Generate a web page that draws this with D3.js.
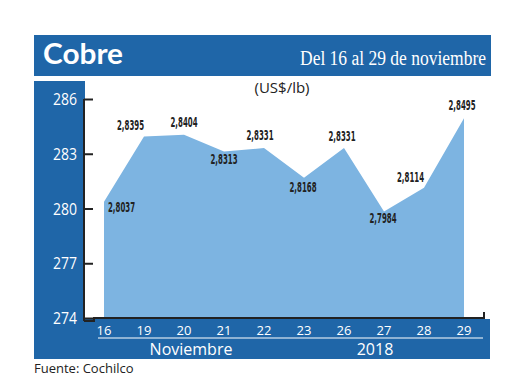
<!DOCTYPE html>
<html>
<head>
<meta charset="utf-8">
<script src="https://cdn.jsdelivr.net/npm/d3@7"></script>
<style>
    body { margin: 0; background: #fff; }
    svg { display: block; }
</style>
</head>
<body>
<div id="chart"></div>
<script>
const WIDTH = 520;
const HEIGHT = 390;

// data
const days = ["16", "19", "20", "21", "22", "23", "26", "27", "28", "29"];
const prices = [280.37, 283.95, 284.04, 283.13, 283.31, 281.68, 283.31, 279.84, 281.14, 284.95];
const labels = ["2,8037", "2,8395", "2,8404", "2,8313", "2,8331", "2,8168", "2,8331", "2,7984", "2,8114", "2,8495"];
const yTicks = [274, 277, 280, 283, 286];

// label offsets relative to each point (dx, dy, anchor)
const labelPos = [
    [4, 10, "start"], [0, -6, "end"], [0, -8, "middle"], [0, 13, "middle"], [-4, -8, "middle"],
    [-1, 14, "middle"], [-2, -7, "middle"], [-1, 12, "middle"], [0, -6, "end"], [-2, -8, "middle"]
];

const blue = "#1f66a8";
const areaBlue = "#7db4e1";

const svg = d3.select("#chart").append("svg")
    .attr("width", WIDTH)
    .attr("height", HEIGHT);

// header bar
svg.append("rect")
    .attr("x", 34).attr("y", 35)
    .attr("width", 457).attr("height", 41)
    .attr("fill", blue);

svg.append("text")
    .attr("x", 43).attr("y", 64)
    .attr("fill", "#fff")
    .style("font-family", "Lato, sans-serif")
    .style("font-weight", "bold")
    .style("font-size", "28px")
    .attr("textLength", 80)
    .attr("lengthAdjust", "spacingAndGlyphs")
    .text("Cobre");

svg.append("text")
    .attr("x", 486).attr("y", 65)
    .attr("text-anchor", "end")
    .attr("fill", "#fff")
    .style("font-family", "'Liberation Serif', serif")
    .style("font-size", "20px")
    .attr("textLength", 186)
    .attr("lengthAdjust", "spacingAndGlyphs")
    .text("Del 16 al 29 de noviembre");

// left panel and bottom panel
svg.append("rect")
    .attr("x", 34).attr("y", 81)
    .attr("width", 51).attr("height", 278)
    .attr("fill", blue);

svg.append("rect")
    .attr("x", 34).attr("y", 319)
    .attr("width", 456).attr("height", 40)
    .attr("fill", blue);

svg.append("text")
    .attr("x", 282).attr("y", 93)
    .attr("text-anchor", "middle")
    .attr("fill", "#222")
    .style("font-family", "'Open Sans', sans-serif")
    .style("font-size", "15px")
    .text("(US$/lb)");

const x = d3.scalePoint()
    .domain(days)
    .range([104, 464]);

const y = d3.scaleLinear()
    .domain([274, 286])
    .range([318, 99]);

const area = d3.area()
    .x((d, i) => x(days[i]))
    .y0(y(274))
    .y1(d => y(d));

svg.append("path")
    .datum(prices)
    .attr("d", area)
    .attr("fill", areaBlue);

// y axis (ticks pointing inwards)
const yAxis = d3.axisRight(y)
    .tickValues(yTicks)
    .tickSize(9)
    .tickFormat("");

const yAxisG = svg.append("g")
    .attr("transform", "translate(84,0)")
    .call(yAxis);

yAxisG.select(".domain").remove();
yAxisG.selectAll(".tick line").attr("stroke", "#222").attr("stroke-width", 2);

svg.append("line")
    .attr("x1", 84).attr("x2", 84)
    .attr("y1", y(286)).attr("y2", 321)
    .attr("stroke", "#222").attr("stroke-width", 2);

svg.append("path")
    .attr("d", "M84,321H94V318H484V312")
    .attr("fill", "none")
    .attr("stroke", "#222").attr("stroke-width", 2);

svg.selectAll(".ylab")
    .data(yTicks)
    .enter().append("text")
    .attr("class", "ylab")
    .attr("x", 77)
    .attr("y", d => y(d) + 6)
    .attr("text-anchor", "end")
    .attr("fill", "#fff")
    .style("font-family", "'Open Sans', sans-serif")
    .style("font-size", "17px")
    .attr("textLength", 24)
    .attr("lengthAdjust", "spacingAndGlyphs")
    .text(d => d);

// x labels
svg.selectAll(".xlab")
    .data(days)
    .enter().append("text")
    .attr("class", "xlab")
    .attr("x", d => x(d))
    .attr("y", 335)
    .attr("text-anchor", "middle")
    .attr("fill", "#fff")
    .style("font-family", "'Open Sans', sans-serif")
    .style("font-size", "13px")
    .text(d => d);

svg.append("line")
    .attr("x1", 98).attr("x2", 483)
    .attr("y1", 338).attr("y2", 338)
    .attr("stroke", "#fff").attr("stroke-width", 1.2);

svg.append("text")
    .attr("x", 191).attr("y", 355)
    .attr("text-anchor", "middle")
    .attr("fill", "#fff")
    .style("font-family", "'Open Sans', sans-serif")
    .style("font-size", "16px")
    .text("Noviembre");

svg.append("text")
    .attr("x", 375).attr("y", 355)
    .attr("text-anchor", "middle")
    .attr("fill", "#fff")
    .style("font-family", "'Open Sans', sans-serif")
    .style("font-size", "16px")
    .text("2018");

// value labels
svg.selectAll(".vlab")
    .data(prices)
    .enter().append("text")
    .attr("class", "vlab")
    .attr("x", (d, i) => x(days[i]) + labelPos[i][0])
    .attr("y", (d, i) => y(d) + labelPos[i][1])
    .attr("text-anchor", (d, i) => labelPos[i][2])
    .attr("fill", "#222")
    .style("font-family", "'DejaVu Sans Condensed', sans-serif")
    .style("font-weight", "bold")
    .style("font-size", "13.5px")
    .attr("textLength", 27)
    .attr("lengthAdjust", "spacingAndGlyphs")
    .text((d, i) => labels[i]);

svg.append("text")
    .attr("x", 34).attr("y", 373)
    .attr("fill", "#222")
    .style("font-family", "'Open Sans', sans-serif")
    .style("font-size", "13px")
    .text("Fuente: Cochilco");
</script>
</body>
</html>
